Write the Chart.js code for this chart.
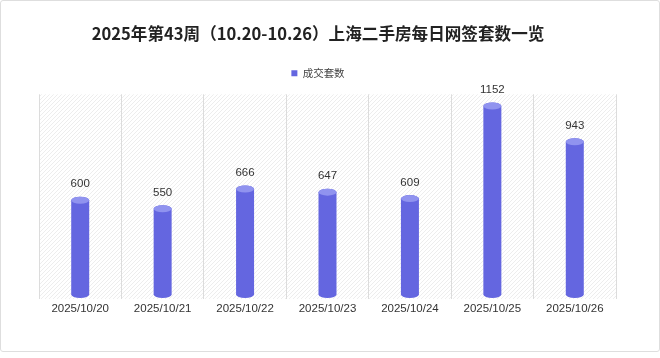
<!DOCTYPE html>
<html>
<head>
<meta charset="utf-8">
<script src="https://cdn.jsdelivr.net/npm/chart.js@4"></script>
<style>
  html, body { margin: 0; padding: 0; background: #fff; }
  #wrap { position: relative; width: 660px; height: 358px; }
  #frame { position: absolute; left: 0; top: 0; width: 660px; height: 352px; box-sizing: border-box;
           border: 1px solid #dedede; border-radius: 3px; pointer-events: none; }
  canvas { position: absolute; left: 0; top: 0; }
</style>
</head>
<body>
<div id="wrap">
  <canvas id="c" width="660" height="358"></canvas>
  <div id="frame"></div>
</div>
<script>
const titleText = '2025年第43周（10.20-10.26）上海二手房每日网签套数一览';
const seriesName = '成交套数';
const categories = ['2025/10/20', '2025/10/21', '2025/10/22', '2025/10/23', '2025/10/24', '2025/10/25', '2025/10/26'];
const values = [600, 550, 666, 647, 609, 1152, 943];

const BAR_COLOR = '#6466e0';
const TOP_COLOR = '#9093ef';

function makeHatch() {
  const s = 4;
  const c = document.createElement('canvas');
  c.width = s; c.height = s;
  const g = c.getContext('2d');
  g.strokeStyle = 'rgba(0,0,0,0.09)';
  g.lineWidth = 0.8;
  g.beginPath();
  g.moveTo(0, s); g.lineTo(s, 0);
  g.moveTo(-1, 1); g.lineTo(1, -1);
  g.moveTo(s - 1, s + 1); g.lineTo(s + 1, s - 1);
  g.stroke();
  return g.createPattern(c, 'repeat');
}

const hatchPlugin = {
  id: 'hatch',
  beforeDraw(chart) {
    const {ctx, chartArea: a} = chart;
    ctx.save();
    ctx.fillStyle = makeHatch();
    ctx.fillRect(a.left, a.top, a.right - a.left, a.bottom - a.top);
    ctx.restore();
  }
};

const cylinderPlugin = {
  id: 'cylinder',
  beforeDatasetDraw(chart, args) {
    const meta = args.meta;
    const ctx = chart.ctx;
    ctx.save();
    meta.data.forEach((el, i) => {
      const {x, y, base, width} = el.getProps(['x', 'y', 'base', 'width'], true);
      const rx = width / 2, ry = 3.5;
      const yt = y + ry, yb = base - ry - 1;
      ctx.beginPath();
      ctx.moveTo(x - rx, yt);
      ctx.lineTo(x - rx, yb);
      ctx.ellipse(x, yb, rx, ry, 0, Math.PI, 0, true);
      ctx.lineTo(x + rx, yt);
      ctx.ellipse(x, yt, rx, ry, 0, 0, Math.PI, true);
      ctx.closePath();
      ctx.fillStyle = BAR_COLOR;
      ctx.fill();
      ctx.beginPath();
      ctx.ellipse(x, yt, rx, ry, 0, 0, Math.PI * 2);
      ctx.fillStyle = TOP_COLOR;
      ctx.fill();
      ctx.fillStyle = '#333';
      ctx.font = '11.5px "Liberation Sans", Arial, sans-serif';
      ctx.textAlign = 'center';
      ctx.textBaseline = 'middle';
      ctx.fillText(String(values[i]), x, y - 12.5);
    });
    ctx.restore();
    return false;
  }
};

new Chart(document.getElementById('c'), {
  type: 'bar',
  data: {
    labels: categories,
    datasets: [{
      label: seriesName,
      data: values,
      backgroundColor: BAR_COLOR,
      barThickness: 18
    }]
  },
  plugins: [hatchPlugin, cylinderPlugin],
  options: {
    responsive: false,
    animation: false,
    devicePixelRatio: 1,
    layout: { padding: { left: 20, right: 44, top: 0, bottom: 39.2 } },
    plugins: {
      title: {
        display: true,
        text: titleText,
        color: '#222',
        font: { family: '"Noto Sans CJK SC", sans-serif', size: 16.6, weight: 'bold', lineHeight: 1.2 },
        padding: { top: 24.2, bottom: 14 }
      },
      legend: {
        display: true,
        labels: {
          boxWidth: 6, boxHeight: 6,
          color: '#444',
          padding: 10,
          font: { family: '"Noto Sans CJK SC", sans-serif', size: 10.5 }
        }
      },
      subtitle: {
        display: true,
        text: ' ',
        weight: 500,
        color: 'rgba(0,0,0,0)',
        font: { size: 1, lineHeight: 1 },
        padding: { top: 4.7, bottom: 0 }
      },
      tooltip: { enabled: false }
    },
    scales: {
      x: {
        grid: { display: true, drawTicks: false, color: '#dcdcdc', lineWidth: 1, offset: true },
        border: { display: false },
        ticks: { color: '#333', padding: 3, maxRotation: 0,
                 font: { family: '"Liberation Sans", Arial, sans-serif', size: 11.5, lineHeight: 1.2 } }
      },
      y: {
        min: 0, max: 1200,
        grid: { display: false },
        border: { display: false },
        ticks: { display: false },
        afterFit(scale) { scale.width = 19; }
      }
    }
  }
});
</script>
</body>
</html>
